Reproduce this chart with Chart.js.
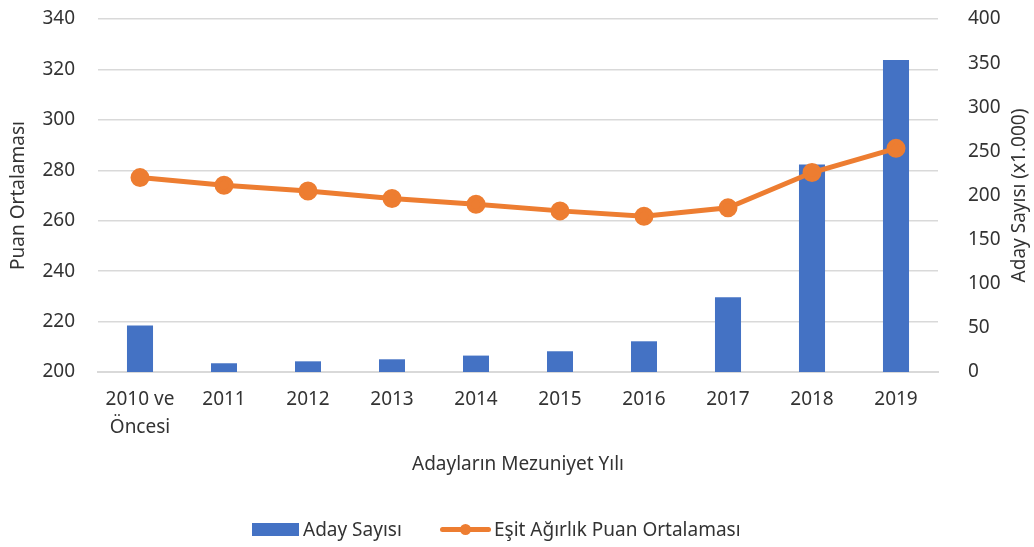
<!DOCTYPE html>
<html>
<head>
<meta charset="utf-8">
<script src="https://cdn.jsdelivr.net/npm/chart.js@4/dist/chart.umd.min.js"></script>
<style>
  html, body { margin: 0; padding: 0; background: #fff; }
  #wrap { position: relative; width: 1034px; height: 547px; }
  .leg { position: absolute; font-family: "Noto Sans", sans-serif; font-size: 19px; color: #333; line-height: 20px; }
  .box { position: absolute; left: 252px; top: 523px; width: 47px; height: 13px; background: #4472C4; }
  .ln { position: absolute; left: 440px; top: 527px; width: 51px; height: 5px; background: #ED7D31; border-radius: 3px; }
  .dot { position: absolute; left: 460px; top: 524px; width: 11px; height: 11px; border-radius: 50%; background: #ED7D31; }
</style>
</head>
<body>
<div id="wrap">
  <canvas id="chart" width="1034" height="547"></canvas>
  <div class="box"></div>
  <div class="leg" style="left:303px; top:519px;">Aday Sayısı</div>
  <div class="ln"></div><div class="dot"></div>
  <div class="leg" style="left:494px; top:519px;">Eşit Ağırlık Puan Ortalaması</div>
</div>
<script>
const years = [["2010 ve", "Öncesi"], "2011", "2012", "2013", "2014", "2015", "2016", "2017", "2018", "2019"];
const candidates = [52.6, 9.9, 12.1, 14.4, 18.6, 23.5, 34.8, 84.7, 235, 353.5];
const scoreAvg = [277.1, 274.1, 271.8, 268.8, 266.5, 263.9, 261.8, 265.1, 279.1, 288.7];
const rightTitle = "Aday Sayısı (x1.000)";

const textColor = "#333333";
const gridColor = "#d9d9d9";
const font = { family: "Noto Sans", size: 19 };

// right axis title reads bottom-to-top like the left one
const rightTitlePlugin = {
  id: "rightTitle",
  afterDraw(chart) {
    const { ctx, chartArea } = chart;
    ctx.save();
    ctx.translate(1020, (chartArea.top + chartArea.bottom) / 2);
    ctx.rotate(-Math.PI / 2);
    ctx.font = `${font.size}px "${font.family}"`;
    ctx.fillStyle = textColor;
    ctx.textAlign = "center";
    ctx.textBaseline = "middle";
    ctx.fillText(rightTitle, 0, 0);
    ctx.restore();
  },
};

// fixed axis sizes; drop the extra top/bottom padding the tick padding adds
function fixY(width) {
  return (s) => {
    s.width = width;
    s.paddingTop = 10;
    s.paddingBottom = 10;
  };
}

new Chart(document.getElementById("chart"), {
  data: {
    labels: years,
    datasets: [
      {
        type: "line",
        label: "Eşit Ağırlık Puan Ortalaması",
        data: scoreAvg,
        yAxisID: "yScore",
        borderColor: "#ED7D31",
        backgroundColor: "#ED7D31",
        borderWidth: 5,
        pointRadius: 7,
        pointHoverRadius: 7,
        tension: 0,
        order: 0,
      },
      {
        type: "bar",
        label: "Aday Sayısı",
        data: candidates,
        yAxisID: "yCount",
        backgroundColor: "#4472C4",
        barPercentage: 0.31,
        categoryPercentage: 1,
        order: 1,
      },
    ],
  },
  options: {
    responsive: false,
    animation: false,
    layout: { padding: { top: 19, bottom: 60 } },
    plugins: { legend: { display: false }, tooltip: { enabled: false } },
    scales: {
      x: {
        grid: { display: false },
        border: { color: gridColor, width: 2 },
        ticks: { color: textColor, font: { ...font, lineHeight: 1.47 }, padding: 6, maxRotation: 0, autoSkip: false },
        title: { display: true, text: "Adayların Mezuniyet Yılı", color: textColor, font, padding: { top: 4, bottom: 11 } },
        afterFit: (s) => { s.height = 547 - 60 - 372; },
      },
      yScore: {
        position: "left",
        min: 200,
        max: 340,
        ticks: { stepSize: 20, color: textColor, font, padding: 23 },
        grid: { color: gridColor, lineWidth: 1.5, drawTicks: false },
        border: { display: false },
        title: { display: true, text: "Puan Ortalaması", color: textColor, font, padding: { top: 7, bottom: 0 } },
        afterFit: fixY(98),
      },
      yCount: {
        position: "right",
        min: 0,
        max: 400,
        ticks: { stepSize: 50, color: textColor, font, padding: 22 },
        grid: { display: false },
        border: { display: false },
        afterFit: fixY(96),
      },
    },
  },
  plugins: [rightTitlePlugin],
});
</script>
</body>
</html>
